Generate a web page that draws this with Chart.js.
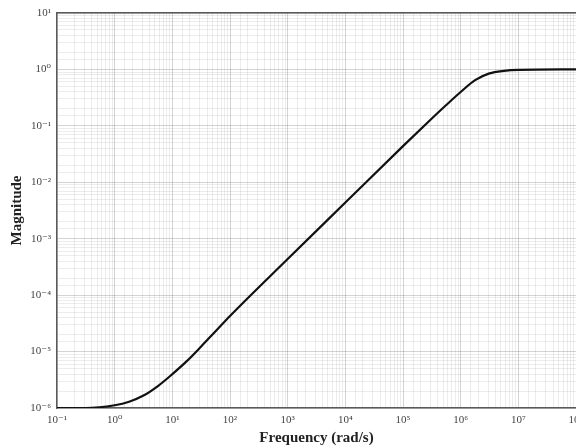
<!DOCTYPE html>
<html>
<head>
<meta charset="utf-8">
<script src="https://cdn.jsdelivr.net/npm/chart.js@4/dist/chart.umd.min.js"></script>
<style>
  html, body { margin: 0; padding: 0; background: #fff; overflow: hidden; }
  #wrap { width: 576px; height: 448px; position: relative; }
</style>
</head>
<body>
<div id="wrap"><canvas id="c" width="576" height="448"></canvas></div>
<script>
// Frequency (rad/s) and magnitude
const frequency = [0.1, 0.316, 1, 1.78, 3.16, 5.62, 10, 17.8, 31.6, 56.2, 100, 1e3, 1e4, 1e5, 3.16e5, 5.62e5, 1e6, 1.78e6, 3.16e6, 5.62e6, 1e7, 1e8];
const magnitude = [1e-6, 1e-6, 1.12e-6, 1.29e-6, 1.66e-6, 2.45e-6, 3.98e-6, 6.76e-6, 1.23e-5, 2.29e-5, 4.27e-5, 4.37e-4, 4.37e-3, 4.37e-2, 0.135, 0.234, 0.398, 0.646, 0.851, 0.944, 0.982, 1];

// Tick labels (decades)
const xDecades = [-1, 0, 1, 2, 3, 4, 5, 6, 7, 8];
const xTickLabels = ['10\u207B\u00B9', '10\u2070', '10\u00B9', '10\u00B2', '10\u00B3', '10\u2074', '10\u2075', '10\u2076', '10\u2077', '10\u2078'];
const yDecades = [-6, -5, -4, -3, -2, -1, 0, 1];
const yTickLabels = ['10\u207B\u2076', '10\u207B\u2075', '10\u207B\u2074', '10\u207B\u00B3', '10\u207B\u00B2', '10\u207B\u00B9', '10\u2070', '10\u00B9'];

const xTitle = 'Frequency (rad/s)';
const yTitle = 'Magnitude';

function decadeOf(v) {
  const e = Math.log10(v);
  const r = Math.round(e);
  return Math.abs(e - r) < 1e-6 ? r : null;
}
function labelFor(v, decades, labels) {
  const d = decadeOf(v);
  if (d === null) return '';
  const i = decades.indexOf(d);
  return i >= 0 ? labels[i] : '';
}
function gridColor(ctx) {
  const v = ctx.tick ? ctx.tick.value : null;
  if (v !== null && decadeOf(v) !== null) return 'rgba(40,40,40,0.20)';
  return 'rgba(40,40,40,0.09)';
}

const serif = '"Liberation Serif", "DejaVu Serif", serif';

new Chart(document.getElementById('c'), {
  type: 'line',
  data: {
    datasets: [{
      data: frequency.map((f, i) => ({ x: f, y: magnitude[i] })),
      borderColor: '#111',
      borderWidth: 2.2,
      pointRadius: 0,
      fill: false,
      cubicInterpolationMode: 'monotone'
    }]
  },
  options: {
    responsive: false,
    animation: false,
    layout: { padding: { left: 0, right: 0, top: 13, bottom: 0 } },
    plugins: { legend: { display: false }, tooltip: { enabled: false } },
    scales: {
      x: {
        type: 'logarithmic',
        min: 0.1,
        max: 1e8,
        position: 'bottom',
        border: { display: true, color: '#5a5a5a', width: 1.5 },
        grid: { color: gridColor, drawTicks: false, lineWidth: 1 },
        ticks: {
          autoSkip: false,
          maxRotation: 0,
          padding: 6,
          color: '#444',
          font: { family: serif, size: 11 },
          callback: (v) => labelFor(v, xDecades, xTickLabels)
        },
        title: {
          display: true,
          text: xTitle,
          color: '#222',
          font: { family: serif, size: 15, weight: 'bold' },
          padding: { top: 0, bottom: 1 }
        },
        afterFit: (s) => { s.height = 40; s.paddingLeft = 0; s.paddingRight = 0; }
      },
      x2: {
        type: 'logarithmic',
        min: 0.1,
        max: 1e8,
        position: 'top',
        border: { display: true, color: '#5a5a5a', width: 1.5 },
        grid: { display: false, drawTicks: false },
        ticks: { display: false },
        afterFit: (s) => { s.height = 0; s.paddingLeft = 0; s.paddingRight = 0; }
      },
      y: {
        type: 'logarithmic',
        min: 1e-6,
        max: 10,
        border: { display: true, color: '#5a5a5a', width: 1.5 },
        grid: { color: gridColor, drawTicks: false, lineWidth: 1 },
        ticks: {
          autoSkip: false,
          padding: 6,
          color: '#444',
          font: { family: serif, size: 11 },
          callback: (v) => labelFor(v, yDecades, yTickLabels)
        },
        title: {
          display: true,
          text: yTitle,
          color: '#222',
          font: { family: serif, size: 15, weight: 'bold' },
          padding: { top: 8, bottom: 0 }
        },
        afterFit: (s) => { s.width = 57; s.paddingTop = 0; s.paddingBottom = 0; }
      }
    }
  }
});
</script>
</body>
</html>
